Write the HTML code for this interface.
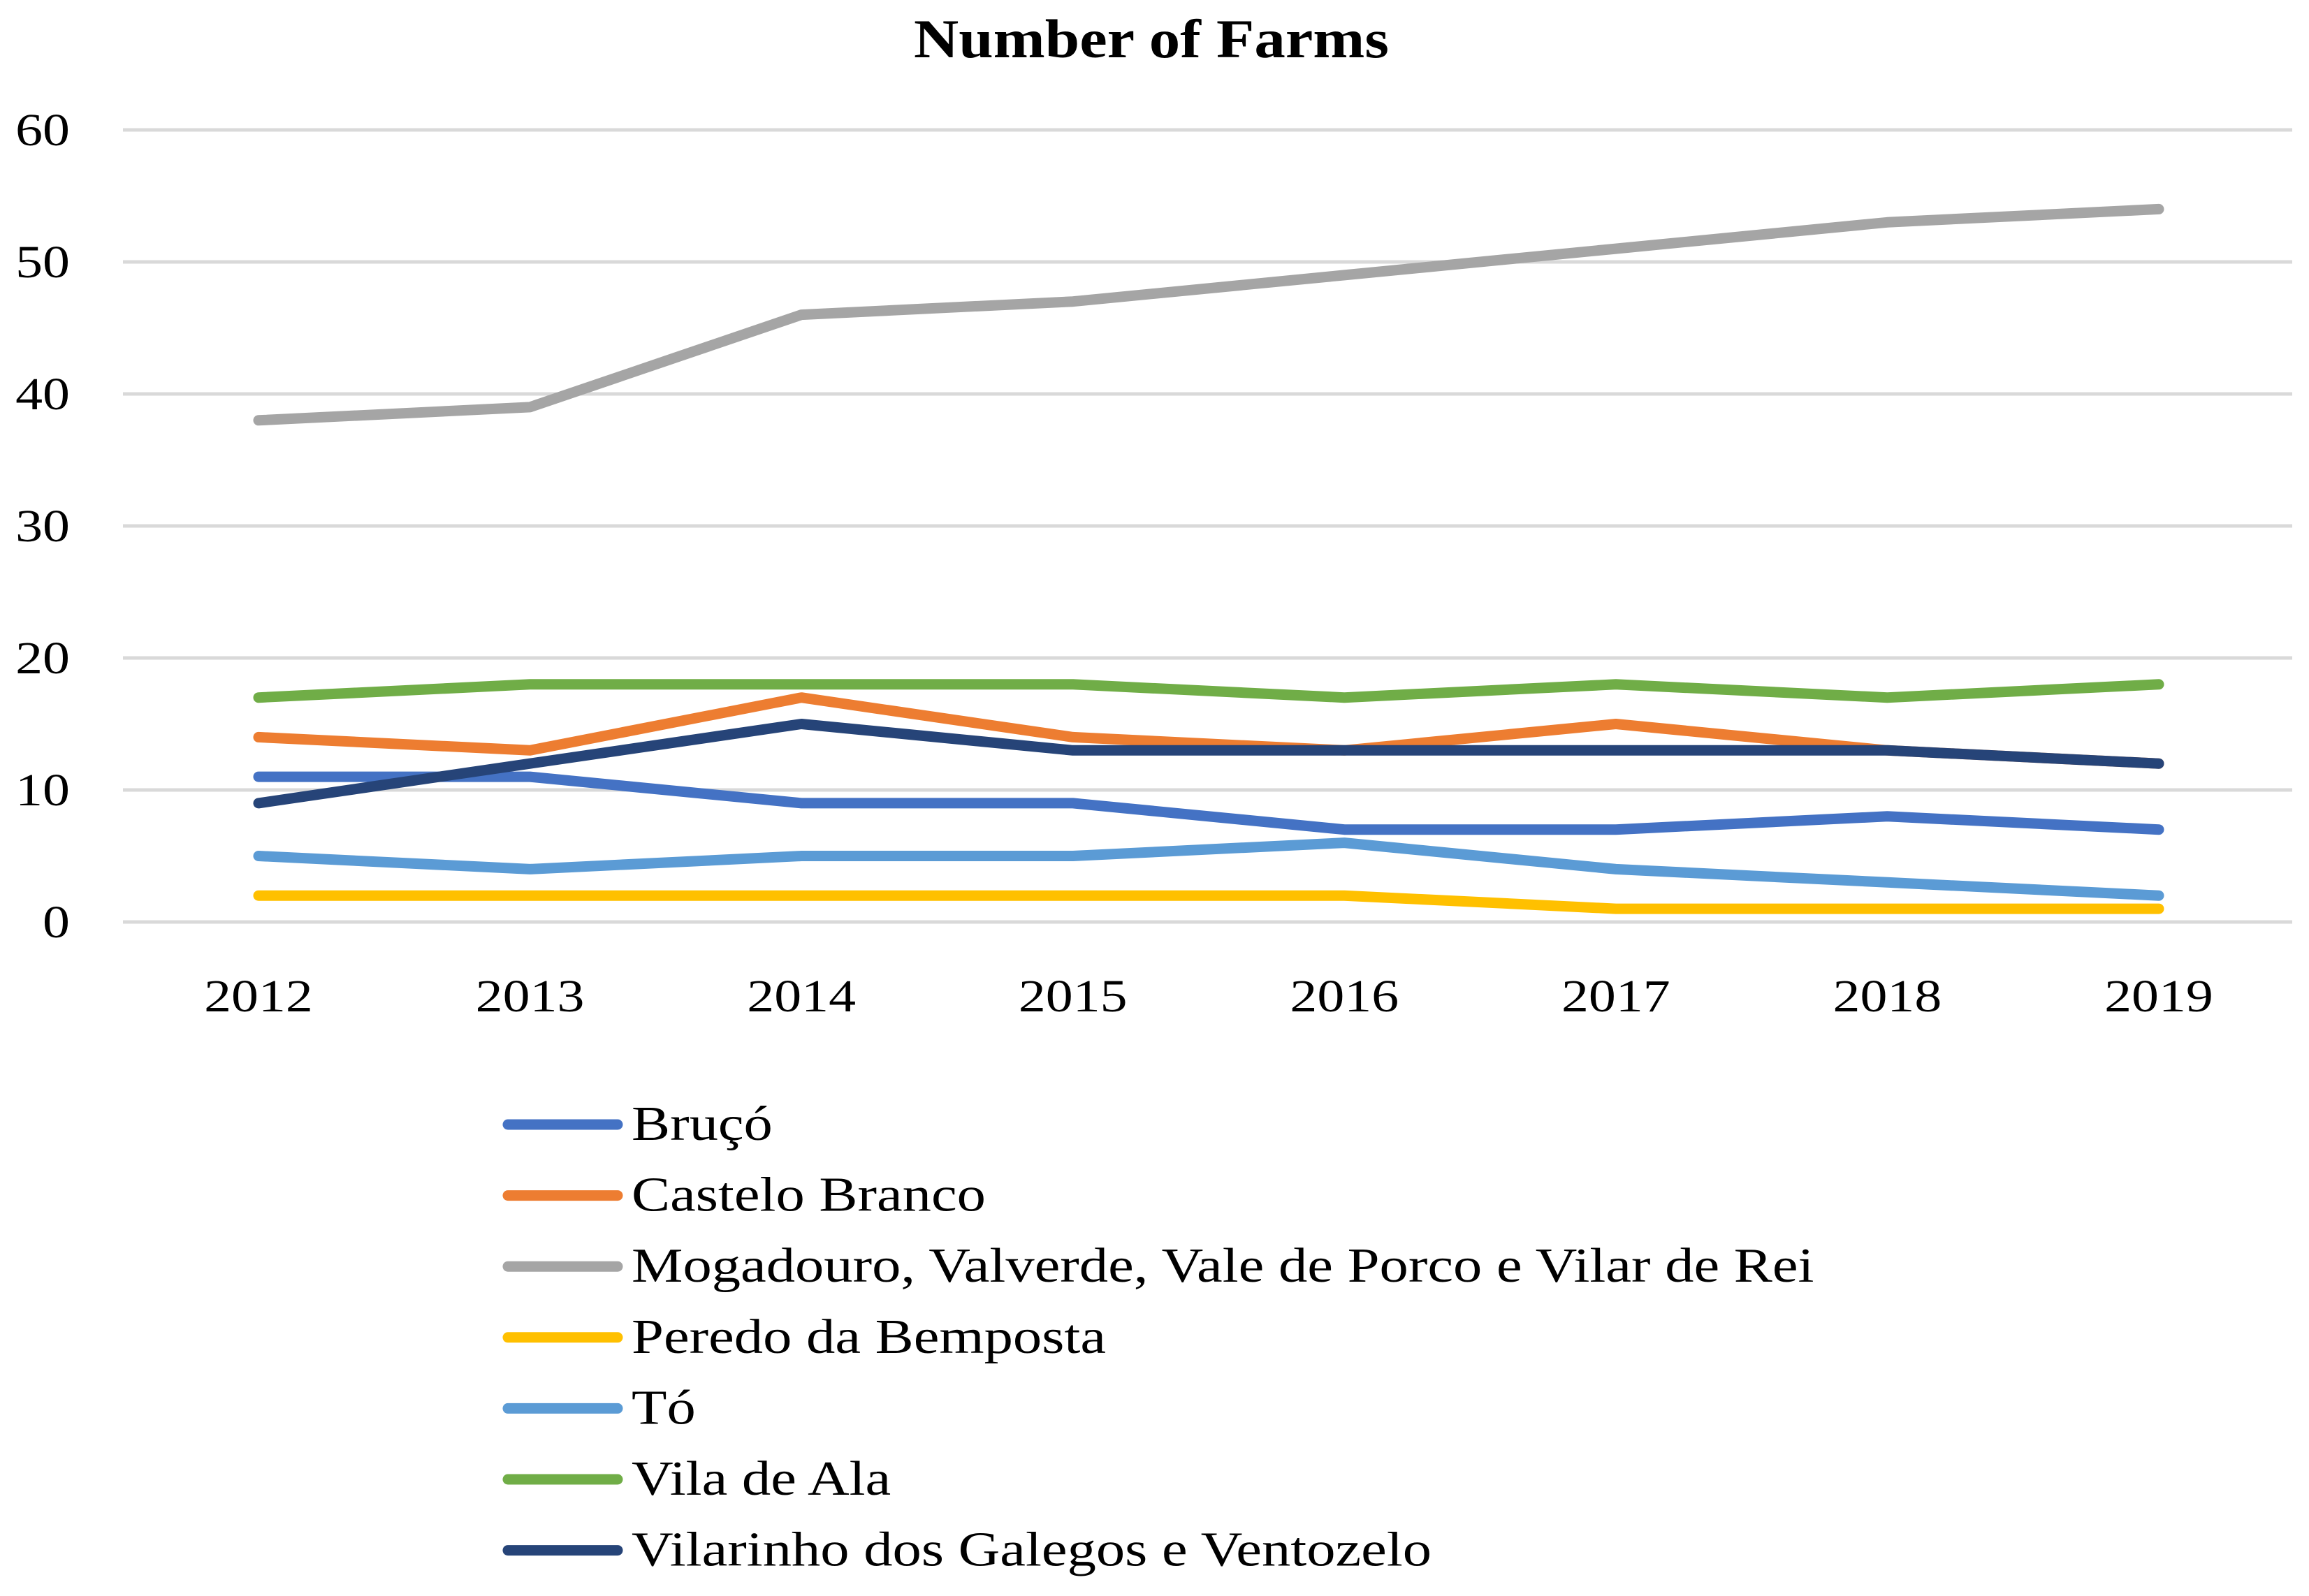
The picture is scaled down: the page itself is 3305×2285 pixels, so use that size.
<!DOCTYPE html>
<html><head><meta charset="utf-8"><style>
html,body{margin:0;padding:0;background:#fff}
svg{display:block}
text{font-family:"Liberation Serif",serif;fill:#000}
</style></head><body>
<svg id="chart" width="3305" height="2285" viewBox="0 0 3305 2285">
<text id="title" x="1648" y="82" text-anchor="middle" font-size="78" font-weight="bold">Number of Farms</text>
<g id="grid"></g><g id="xaxis"></g><g id="series"></g><g id="legend"></g>
</svg>
<script>
const years=["2012","2013","2014","2015","2016","2017","2018","2019"];
const yTicks=[0,10,20,30,40,50,60];
const names=["Bruçó","Castelo Branco","Mogadouro, Valverde, Vale de Porco e Vilar de Rei","Peredo da Bemposta","Tó","Vila de Ala","Vilarinho dos Galegos e Ventozelo"];
const brucoVals=[11,11,9,9,7,7,8,7];
const casteloVals=[14,13,17,14,13,15,13,12];
const mogadouroVals=[38,39,46,47,49,51,53,54];
const peredoVals=[2,2,2,2,2,1,1,1];
const toVals=[5,4,5,5,6,4,3,2];
const vilaAlaVals=[17,18,18,18,17,18,17,18];
const vilarinhoVals=[9,12,15,13,13,13,13,12];
const seriesVals=[brucoVals,casteloVals,mogadouroVals,peredoVals,toVals,vilaAlaVals,vilarinhoVals];
const colors=["#4472C4","#ED7D31","#A5A5A5","#FFC000","#5B9BD5","#70AD47","#264478"];
const NS="http://www.w3.org/2000/svg";
const y0=1320,y60=186,gx0=176,gx1=3281,x0=370,x1=3090;
const yS=v=>y0+(y60-y0)*v/60;
const xS=i=>x0+(x1-x0)*i/(years.length-1);
function mk(t,a,p){const e=document.createElementNS(NS,t);for(const k in a)e.setAttribute(k,a[k]);p.appendChild(e);return e;}
function widen(t,f){const w=t.getComputedTextLength();t.setAttribute('textLength',w*f);t.setAttribute('lengthAdjust','spacingAndGlyphs');}
widen(document.getElementById('title'),1.14);
const grid=document.getElementById('grid');
yTicks.forEach(v=>{
 const l=mk('line',{x1:gx0,x2:gx1,y1:yS(v),y2:yS(v),stroke:'#d9d9d9','stroke-width':5},grid);
 
 
 const t=mk('text',{x:100,y:yS(v)+22,'text-anchor':'end','font-size':66},grid);
 t.textContent=v;
 
 
 widen(t,1.18);
});
const xa=document.getElementById('xaxis');
years.forEach((yr,i)=>{
 const t=mk('text',{x:xS(i),y:1448,'text-anchor':'middle','font-size':66},xa);
 t.textContent=yr;
 
 
 widen(t,1.18);
});
const sg=document.getElementById('series');
seriesVals.forEach((vals,s)=>{
 const p=mk('polyline',{points:vals.map((v,i)=>xS(i)+','+yS(v)).join(' '),fill:'none',stroke:colors[s],'stroke-width':15,'stroke-linejoin':'round','stroke-linecap':'round'},sg);
 
 
});
const lg=document.getElementById('legend');
names.forEach((n,s)=>{
 const y=1610+s*101.6;
 const g=mk('g',{},lg);
 
 
 mk('line',{x1:727,x2:884,y1:y,y2:y,stroke:colors[s],'stroke-width':15,'stroke-linecap':'round'},g);
 const t=mk('text',{x:904,y:y+22,'font-size':70},g);
 t.textContent=n;
 widen(t,1.18);
});
</script>
</body></html>
